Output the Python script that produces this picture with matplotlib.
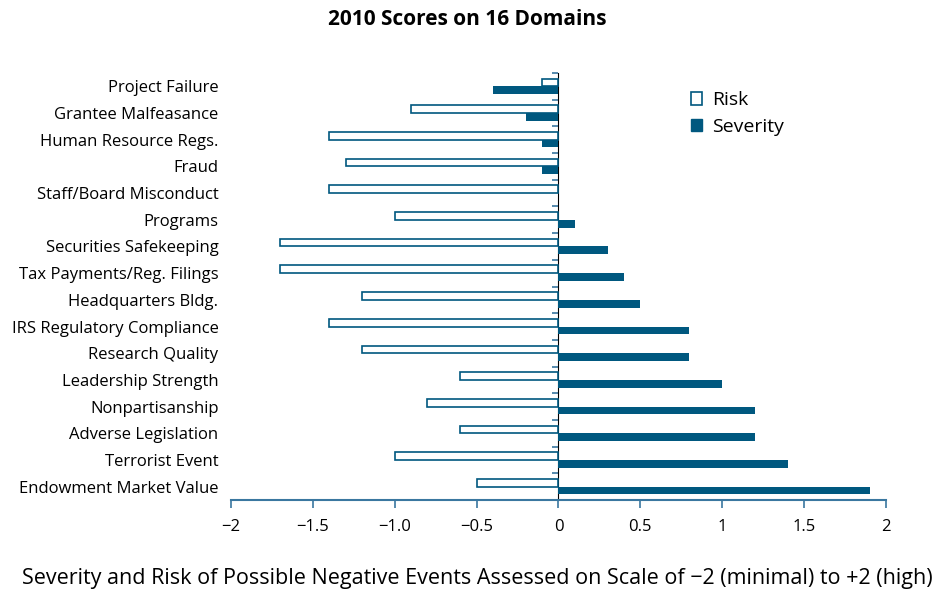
import numpy as np
import matplotlib.pyplot as plt
from matplotlib.patches import Patch

plt.rcParams['font.family'] = ['Open Sans', 'DejaVu Sans']

# data, top to bottom as in the chart
domains = ['Project Failure', 'Grantee Malfeasance', 'Human Resource Regs.', 'Fraud',
           'Staff/Board Misconduct', 'Programs', 'Securities Safekeeping',
           'Tax Payments/Reg. Filings', 'Headquarters Bldg.', 'IRS Regulatory Compliance',
           'Research Quality', 'Leadership Strength', 'Nonpartisanship',
           'Adverse Legislation', 'Terrorist Event', 'Endowment Market Value']
risk = [-0.1, -0.9, -1.4, -1.3, -1.4, -1.0, -1.7, -1.7, -1.2, -1.4, -1.2, -0.6, -0.8, -0.6, -1.0, -0.5]
severity = [-0.4, -0.2, -0.1, -0.1, 0.0, 0.1, 0.3, 0.4, 0.5, 0.8, 0.8, 1.0, 1.2, 1.2, 1.4, 1.9]
xticks = [-2, -1.5, -1, -0.5, 0, 0.5, 1, 1.5, 2]
xtick_labels = ['\u22122', '\u22121.5', '\u22121.0', '\u22120.5', '0', '0.5', '1', '1.5', '2']

blue = '#00587f'
axis_blue = '#3a77a0'

fig = plt.figure(figsize=(9.35, 5.96), dpi=100)
ax = fig.add_axes([0.247, 0.161, 0.7006, 0.7165])

n = len(domains)
y = np.arange(n)[::-1]
h = 0.29
ax.barh(y + h / 2, risk, height=h, color='white', edgecolor=blue, linewidth=1.2, label='Risk')
ax.barh(y - h / 2, severity, height=h, color=blue, edgecolor=blue, linewidth=0, label='Severity')

ax.set_xlim(-2, 2)
ax.set_ylim(-0.5, n - 0.5)
ax.set_xticks(xticks)
ax.set_xticklabels(xtick_labels, fontsize=12)
ax.set_yticks(y)
ax.set_yticklabels(domains, fontsize=12)
ax.tick_params(axis='y', length=0, pad=9)
ax.tick_params(axis='x', direction='out', length=6, color=axis_blue, width=1.2, pad=8)

for s in ['top', 'right', 'left']:
    ax.spines[s].set_visible(False)
ax.spines['bottom'].set_color(axis_blue)
ax.spines['bottom'].set_linewidth(1.5)

# zero axis with ticks between categories
sec = ax.secondary_yaxis(0.5)
sec.set_yticks(np.arange(n + 1) - 0.5)
sec.set_yticklabels([])
sec.tick_params(length=4, width=1.2, color=axis_blue, direction='in')
sec.spines['left'].set_color(axis_blue)
sec.spines['left'].set_linewidth(1.5)

handles = [Patch(facecolor='white', edgecolor=blue, linewidth=1.2, label='Risk'),
           Patch(facecolor=blue, edgecolor=blue, label='Severity')]
ax.legend(handles=handles, loc='upper left', bbox_to_anchor=(0.675, 0.998), frameon=False,
          fontsize=14, handlelength=0.6, handleheight=0.6, handletextpad=0.5, labelspacing=0.42)

fig.text(0.5, 0.967, '2010 Scores on 16 Domains', ha='center', va='center',
         fontsize=15, fontweight='bold')
fig.text(0.51, 0.03, 'Severity and Risk of Possible Negative Events Assessed on Scale of \u22122 (minimal) to +2 (high)',
         ha='center', va='center', fontsize=15.5)

fig.savefig('out.png', dpi=100)
